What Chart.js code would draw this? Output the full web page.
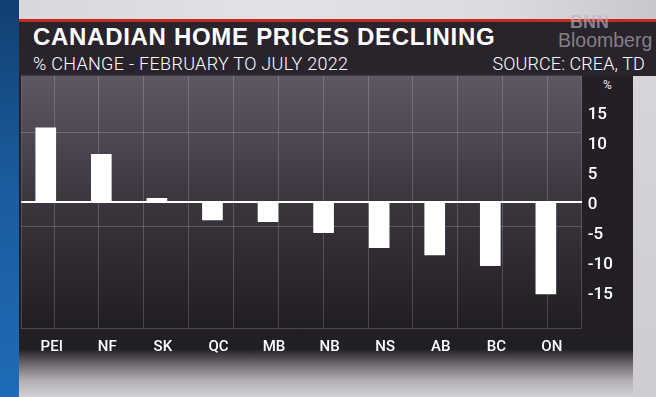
<!DOCTYPE html>
<html>
<head>
<meta charset="utf-8">
<script src="https://cdn.jsdelivr.net/npm/chart.js@4.4.0/dist/chart.umd.min.js"></script>
<style>
  html, body { margin: 0; padding: 0; }
  body { width: 656px; height: 397px; overflow: hidden; position: relative; background: #d4d1d6; font-family: "Liberation Sans", Arial, sans-serif; }
  .blk { position: absolute; }
  #blue { left: 0; top: 0; width: 19px; height: 397px; background: linear-gradient(180deg, #123f72 0%, #1a5b9c 45%, #1f6bb6 100%); }
  #topStrip { left: 19px; top: 0; right: 0; height: 18.5px; background: linear-gradient(90deg, #d9d7dc 0%, #e4e2e6 40%, #dddbe0 75%, #c9c6cc 100%); }
  #redLine { left: 19px; top: 18.5px; right: 0; height: 3px; background: #c42a20; }
  #header { left: 19px; top: 21.5px; right: 0; height: 54px; background: #29232c; }
  #lower { left: 19px; top: 75.5px; width: 614px; height: 321.5px;
    background: linear-gradient(180deg, #241f27 0px, #221e25 273px, #6c686e 288px, #b4b1b6 305px, #d4d1d6 321.5px); }
  #rightPanel { left: 633px; top: 75.5px; right: 0; bottom: 0; background: linear-gradient(180deg, #d8d5da, #cfccd1); }
  #title { left: 33px; top: 24.7px; font-size: 24px; line-height: 24px; font-weight: bold; color: #fff; letter-spacing: 0.7px; white-space: nowrap; }
  #subtitle { left: 33px; top: 54.8px; font-family: Roboto, sans-serif; font-weight: 300; font-size: 18px; line-height: 18px; color: #fff; letter-spacing: 0.3px; white-space: nowrap; }
  #source { right: 11px; top: 54.8px; font-family: Roboto, sans-serif; font-weight: 300; font-size: 18px; line-height: 18px; color: #fff; letter-spacing: 0.1px; white-space: nowrap; }
  #bnn { left: 570px; top: 12.8px; font-size: 18px; line-height: 18px; font-weight: bold; color: rgba(185,182,190,0.65); white-space: nowrap; }
  #bloomberg { left: 558px; top: 30.5px; font-size: 19.5px; line-height: 19.5px; color: rgba(185,182,190,0.65); white-space: nowrap; }
  #pct { left: 603px; top: 79px; font-family: Roboto, sans-serif; font-size: 12px; line-height: 12px; color: #e8e6ea; }
  #chartWrap { position: absolute; left: 0; top: 0; width: 656px; height: 397px; }
</style>
</head>
<body>
<div class="blk" id="blue"></div>
<div class="blk" id="topStrip"></div>
<div class="blk" id="redLine"></div>
<div class="blk" id="header"></div>
<div class="blk" id="lower"></div>
<div class="blk" id="rightPanel"></div>
<div class="blk" id="title">CANADIAN HOME PRICES DECLINING</div>
<div class="blk" id="subtitle">% CHANGE - FEBRUARY TO JULY 2022</div>
<div class="blk" id="source">SOURCE: CREA, TD</div>
<div class="blk" id="bnn">BNN</div>
<div class="blk" id="bloomberg">Bloomberg</div>
<div class="blk" id="pct">%</div>
<div id="chartWrap"><canvas id="chart" width="656" height="397"></canvas></div>

<script>
  // data (% change Feb -> Jul 2022)
  const provinces = ['PEI', 'NF', 'SK', 'QC', 'MB', 'NB', 'NS', 'AB', 'BC', 'ON'];
  const changes = [12.3, 7.9, 0.6, -3.0, -3.3, -5.1, -7.6, -8.8, -10.6, -15.3];
  const yTicks = [-15, -10, -5, 0, 5, 10, 15];

  // background grid of the graphic (not tied to the ticks)
  const gridX = [21.3, 54, 98.9, 143.8, 188.6, 233.5, 278.4, 323.3, 368.2, 413, 457.9, 502.8, 547.7, 581.7];
  const gridY = [-21, -4.1, 11.5];

  const plotBg = {
      id: 'plotBg',
      beforeDraw(chart) {
          const { ctx, chartArea: a } = chart;
          const g = ctx.createLinearGradient(0, a.top, 0, a.bottom);
          g.addColorStop(0, '#5d5862');
          g.addColorStop(0.5, '#3b363e');
          g.addColorStop(1, '#211d24');
          ctx.save();
          ctx.fillStyle = g;
          ctx.fillRect(a.left, a.top, a.right - a.left, a.bottom - a.top);
          ctx.restore();
      }
  };

  const gridColor = 'rgba(255, 255, 255, 0.18)';

  new Chart(document.getElementById('chart'), {
      type: 'bar',
      data: {
          datasets: [{
              data: changes.map((v, i) => ({ x: i, y: v })),
              backgroundColor: '#ffffff',
              borderWidth: 0,
              barThickness: 20
          }]
      },
      options: {
          responsive: false,
          animation: false,
          layout: { padding: { left: 21.3, top: 75.5, right: 24.3, bottom: 38.7 } },
          plugins: { legend: { display: false }, tooltip: { enabled: false } },
          scales: {
              x: {
                  type: 'linear',
                  position: 'bottom',
                  offset: false,
                  min: -0.44,
                  max: 9.645,
                  afterBuildTicks: axis => { axis.ticks = provinces.map((_, i) => ({ value: i })); },
                  afterFit: axis => { axis.height = 30; },
                  grid: { display: false, offset: false },
                  border: { display: false },
                  ticks: {
                      color: '#ffffff',
                      padding: 2,
                      labelOffset: 6,
                      maxRotation: 0,
                      autoSkip: false,
                      font: { family: 'Roboto', weight: '500', size: 15 },
                      callback: v => provinces[v]
                  }
              },
              x2: {
                  type: 'linear',
                  position: 'top',
                  offset: false,
                  min: gridX[0],
                  max: gridX[gridX.length - 1],
                  afterBuildTicks: axis => { axis.ticks = gridX.map(v => ({ value: v })); },
                  afterFit: axis => { axis.height = 0; },
                  grid: { color: gridColor, lineWidth: 1, drawTicks: false, offset: false },
                  border: { display: false },
                  ticks: { display: false }
              },
              y: {
                  type: 'linear',
                  position: 'right',
                  min: -21,
                  max: 21,
                  afterBuildTicks: axis => { axis.ticks = yTicks.map(v => ({ value: v })); },
                  afterFit: axis => { axis.width = 50; },
                  grid: {
                      drawTicks: false,
                      color: c => (c.tick && c.tick.value === 0 ? '#ffffff' : 'rgba(0,0,0,0)'),
                      lineWidth: c => (c.tick && c.tick.value === 0 ? 2 : 0)
                  },
                  border: { display: false },
                  ticks: {
                      color: '#ffffff',
                      padding: 6,
                      labelOffset: 3,
                      font: { family: "'Liberation Sans Narrow', Roboto", weight: '500', size: 17 }
                  }
              },
              y2: {
                  type: 'linear',
                  position: 'left',
                  min: -21,
                  max: 21,
                  afterBuildTicks: axis => { axis.ticks = gridY.map(v => ({ value: v })); },
                  afterFit: axis => { axis.width = 0; },
                  grid: { color: gridColor, lineWidth: 1, drawTicks: false },
                  border: { display: false },
                  ticks: { display: false }
              }
          }
      },
      plugins: [plotBg]
  });
</script>
</body>
</html>
